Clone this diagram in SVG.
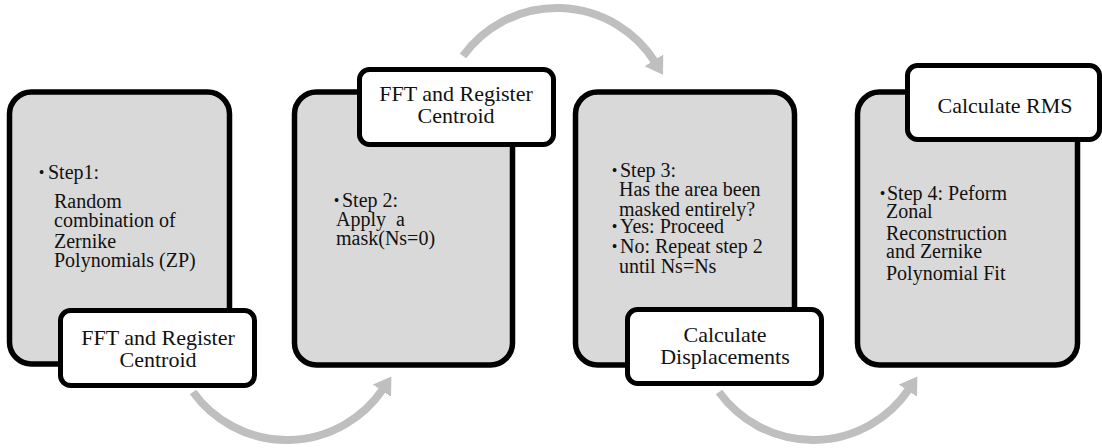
<svg xmlns="http://www.w3.org/2000/svg" width="1102" height="448" viewBox="0 0 1102 448">
<style>
.card{fill:#d9d9d9;stroke:#000;stroke-width:5.5}
.lbl{fill:#fff;stroke:#000;stroke-width:5}
.arc{fill:none;stroke:#bfbfbf;stroke-width:8;marker-end:url(#ah)}
.t{font-family:"Liberation Serif",serif;font-size:20px;fill:#111}
.b{font-family:"Liberation Serif",serif;font-size:16px;fill:#111}
.lt{font-family:"Liberation Serif",serif;font-size:22px;fill:#111;text-anchor:middle}
</style>
<defs>
<marker id="ah" markerUnits="userSpaceOnUse" markerWidth="22" markerHeight="24" refX="2" refY="11" orient="auto">
<path d="M0,0 L17,11 L0,22 z" fill="#bfbfbf"/>
</marker>
</defs>
<rect width="1102" height="448" fill="#fff"/>
<g id="connectors">
<path class="arc" d="M193,392 A116,116 0 0 0 383,389"/>
<path class="arc" d="M463,56 A116,116 0 0 1 655,62"/>
<path class="arc" d="M719,392 A116,116 0 0 0 909,389"/>
</g>
<g id="step1">
<rect class="card" x="9.5" y="92" width="220" height="272" rx="22"/>
<text class="b" x="38.7" y="178">•</text>
<text class="t" x="48" y="179">Step1:</text>
<text class="t" x="54" y="208">Random</text>
<text class="t" x="54" y="227">combination of</text>
<text class="t" x="54" y="248">Zernike</text>
<text class="t" x="54" y="267">Polynomials (ZP)</text>
</g>
<g id="label1">
<rect class="lbl" x="60.5" y="310.5" width="194" height="75" rx="10"/>
<text class="lt" x="158" y="345">FFT and Register</text>
<text class="lt" x="158" y="367">Centroid</text>
</g>
<g id="step2">
<rect class="card" x="294.5" y="92" width="218" height="273" rx="22"/>
<text class="b" x="333.7" y="206">•</text>
<text class="t" x="342" y="207">Step 2:</text>
<text class="t" x="336" y="226" xml:space="preserve">Apply  a</text>
<text class="t" x="336" y="245">mask(Ns=0)</text>
</g>
<g id="label2">
<rect class="lbl" x="359.5" y="69.5" width="194" height="75" rx="10"/>
<text class="lt" x="456" y="101">FFT and Register</text>
<text class="lt" x="456" y="123">Centroid</text>
</g>
<g id="step3">
<rect class="card" x="575.5" y="92" width="219" height="273" rx="22"/>
<text class="b" x="611.7" y="176">•</text>
<text class="t" x="620" y="177">Step 3:</text>
<text class="t" x="619" y="196">Has the area been</text>
<text class="t" x="619" y="216">masked entirely?</text>
<text class="b" x="611.7" y="232">•</text>
<text class="t" x="620" y="233">Yes: Proceed</text>
<text class="b" x="611.7" y="252">•</text>
<text class="t" x="620" y="253">No: Repeat step 2</text>
<text class="t" x="619" y="273">until Ns=Ns</text>
</g>
<g id="label3">
<rect class="lbl" x="627.5" y="309.5" width="194" height="74" rx="10"/>
<text class="lt" x="725" y="342">Calculate</text>
<text class="lt" x="725" y="364">Displacements</text>
</g>
<g id="step4">
<rect class="card" x="857.5" y="92" width="220" height="273" rx="22"/>
<text class="b" x="879.7" y="199">•</text>
<text class="t" x="887" y="200">Step 4: Peform</text>
<text class="t" x="886" y="218">Zonal</text>
<text class="t" x="886" y="240">Reconstruction</text>
<text class="t" x="886" y="258">and Zernike</text>
<text class="t" x="886" y="280">Polynomial Fit</text>
</g>
<g id="label4">
<rect class="lbl" x="907.5" y="65.5" width="192" height="74" rx="10"/>
<text class="lt" x="1005" y="113">Calculate RMS</text>
</g>
</svg>
